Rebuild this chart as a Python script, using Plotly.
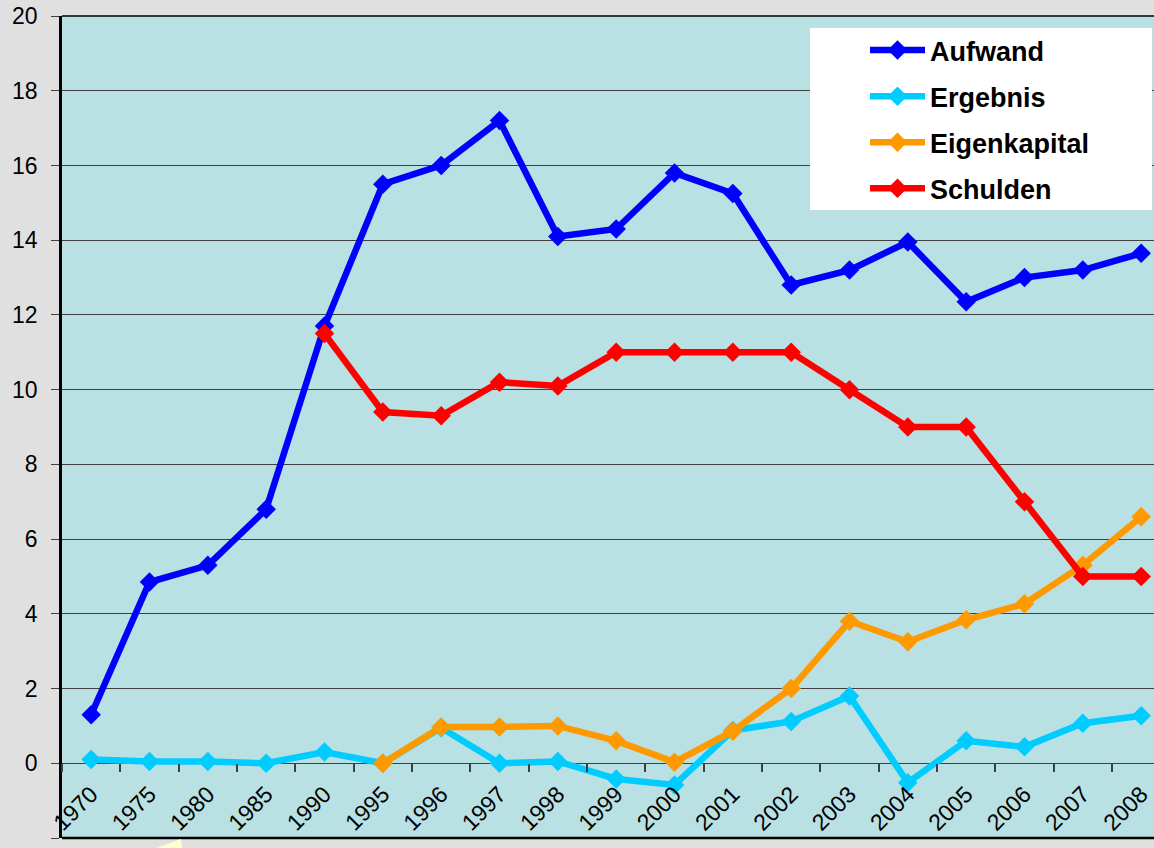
import plotly.graph_objects as go

years = ["1970", "1975", "1980", "1985", "1990", "1995", "1996", "1997", "1998", "1999",
         "2000", "2001", "2002", "2003", "2004", "2005", "2006", "2007", "2008"]

aufwand = [1.3, 4.85, 5.3, 6.8, 11.7, 15.5, 16.0, 17.2, 14.1, 14.3,
           15.8, 15.25, 12.8, 13.2, 13.95, 12.35, 13.0, 13.2, 13.65]
ergebnis = [0.1, 0.05, 0.05, 0.0, 0.3, 0.0, 0.95, 0.0, 0.05, -0.42,
            -0.58, 0.88, 1.12, 1.8, -0.52, 0.6, 0.44, 1.07, 1.27]
eigenkapital = [None, None, None, None, None, 0.0, 0.97, 0.97, 1.0, 0.6,
                0.03, 0.86, 2.0, 3.8, 3.25, 3.84, 4.27, 5.3, 6.6]
schulden = [None, None, None, None, 11.5, 9.4, 9.3, 10.2, 10.1, 11.0,
            11.0, 11.0, 11.0, 10.0, 9.0, 9.0, 7.0, 5.0, 5.0]

series = [
    ("Aufwand", aufwand, "#0000FF"),
    ("Ergebnis", ergebnis, "#00CCFF"),
    ("Eigenkapital", eigenkapital, "#FF9900"),
    ("Schulden", schulden, "#FF0000"),
]

y_ticks = list(range(-2, 21, 2))

FONT = "Arial, Liberation Sans, sans-serif"

fig = go.Figure()
for name, vals, col in series:
    fig.add_trace(go.Scatter(
        x=years, y=vals, name=name, mode="lines+markers",
        line=dict(color=col, width=6.5),
        marker=dict(symbol="diamond", size=15, color=col),
        legendgroup=name,
        connectgaps=False,
    ))

W, H = 1154, 848
L, R, T, B = 62, 0, 16, 10
pw = W - L - R
ph = H - T - B

def px_x(p):
    return (p - L) / pw

def px_y(p):
    return (H - B - p) / ph

fig.update_layout(
    width=W, height=H,
    margin=dict(l=L, r=R, t=T, b=B, pad=0),
    paper_bgcolor="#E0E0E0",
    plot_bgcolor="#B9E0E3",
    font=dict(family=FONT, size=22, color="#000000"),
    showlegend=True,
    legend=dict(
        x=px_x(865), y=px_y(26), xanchor="left", yanchor="top",
        bgcolor="rgba(0,0,0,0)", borderwidth=0,
        font=dict(family=FONT, size=27, color="#000000", weight="bold"),
        tracegroupgap=8,
        itemwidth=55,
    ),
    xaxis=dict(
        type="category",
        categoryorder="array", categoryarray=years,
        range=[-0.5, 18.22],
        showgrid=False, zeroline=False,
        showline=False,
        ticks="outside", ticklen=8, tickcolor="#404040", tickwidth=1.5,
        tickson="boundaries",
        tickangle=-45,
        tickfont=dict(family=FONT, size=23),
        anchor="free",
        position=2 / 22,
        ticklabelstandoff=12,
    ),
    yaxis=dict(
        range=[-2, 20],
        tickvals=y_ticks,
        showgrid=True, gridcolor="#404040", gridwidth=1,
        zeroline=True, zerolinecolor="#404040", zerolinewidth=1,
        showline=True, linecolor="#000000", linewidth=2.5,
        ticks="outside", ticklen=8, tickcolor="#404040",
        tickfont=dict(family=FONT, size=23),
        ticklabelstandoff=9,
        domain=[0, 1],
    ),
    shapes=[
        # legend box
        dict(type="rect", xref="paper", yref="paper",
             x0=px_x(810), x1=px_x(1152), y0=px_y(210), y1=px_y(28),
             fillcolor="#FFFFFF", line=dict(width=0), layer="above"),
        # bottom frame line
        dict(type="line", xref="paper", yref="paper",
             x0=0, x1=1, y0=0, y1=0, line=dict(color="#000000", width=2.5)),
        # top line
        dict(type="line", xref="paper", yref="paper",
             x0=0, x1=1, y0=1, y1=1, line=dict(color="#000000", width=1.5)),
        # small pale yellow mark under the axis
        dict(type="path", xref="paper", yref="paper",
             path=f"M {px_x(157)} {px_y(848)} L {px_x(181)} {px_y(839)} L {px_x(182)} {px_y(848)} Z",
             fillcolor="#FFFFD0", line=dict(width=0), layer="above"),
    ],
)

fig.write_html(
    "out.html",
    config={"displayModeBar": False},
    post_script="document.body.style.margin='0';document.body.style.overflow='hidden';",
)
